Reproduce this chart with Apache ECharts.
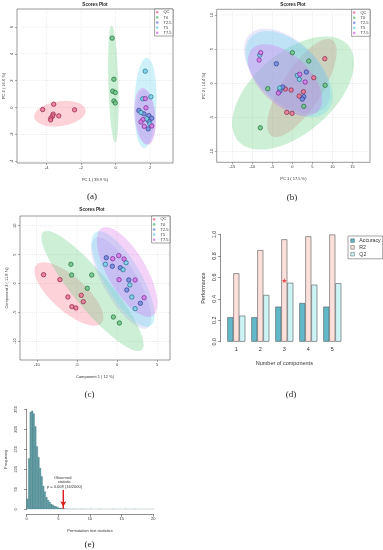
<!DOCTYPE html>
<html><head><meta charset="utf-8">
<script src="https://cdn.jsdelivr.net/npm/echarts@6/dist/echarts.min.js"></script>
<style>html,body{margin:0;padding:0;background:#fff}#c{width:383px;height:550px}</style>
</head><body><div id="c"></div>
<script>
// ---------- shared ----------
const groups = ['QC','T0','T2.5','T5','T7.5'];
const ellFill  = ['rgba(248,118,140,0.33)','rgba(100,205,130,0.33)','rgba(140,140,230,0.20)','rgba(110,215,240,0.33)','rgba(220,110,235,0.30)'];
const ptFill   = ['rgba(232,120,150,0.85)','rgba(110,195,135,0.85)','rgba(120,140,220,0.85)','rgba(125,210,235,0.85)','rgba(214,125,230,0.85)'];
const ptBorder = ['#8E1F3C','#1F6E3C','#2A3F8F','#1F6F88','#7D2590'];

// ---------- panel (a) ----------
const a_xTicks = [-4,-2,0,2];
const a_yTicks = [-4,-2,0,2,4,6];
const a_QC  = [[-4.23,-0.15],[-3.59,0.25],[-2.38,-0.17],[-3.30,-0.62],[-3.62,-0.49],[-3.65,-0.63],[-3.75,-0.78],[-3.77,-0.92]];
const a_T0  = [[-0.20,5.17],[-0.10,2.11],[-0.17,1.22],[-0.02,1.12],[-0.10,0.49],[-0.02,0.34]];
const a_T25 = [[1.35,-0.22],[1.64,-0.47],[1.93,-0.60],[2.09,-0.80],[1.93,-1.02],[1.89,-1.59]];
const a_T5  = [[1.72,2.71],[2.05,0.80],[1.47,-0.37],[1.80,-0.84],[1.99,-1.22],[1.57,0.65]];
const a_T75 = [[1.72,0.67],[1.76,-0.02],[1.58,-0.90],[1.47,-1.07],[1.66,-1.40],[2.10,-1.37]];
// ellipses: [cx, cy, semi-axis1 dx, dy, semi-axis2 dx, dy] in data units
const a_ellQC  = [-3.23,-0.46, 1.49,0.27, 0.10,-0.92];
const a_ellT0  = [-0.13,1.75, -0.10,4.35, 0.29,0.01];
const a_ellT25 = [1.75,-0.70, -0.10,2.05, 0.58,0.03];
const a_ellT5  = [1.73,0.35, 0.087,3.36, 0.64,-0.03];
const a_ellT75 = [1.70,-0.65, -0.157,2.11, 0.60,0.07];

// ---------- panel (b) ----------
const b_xTicks = [-15,-10,-5,0,5,10,15];
const b_yTicks = [-10,-5,0,5,10];
const b_QC  = [[8.1,3.6],[5.35,0.82],[-0.3,-0.98],[2.75,-1.23],[1.7,-1.86],[-1.4,-4.25],[-0.07,-4.39],[-1.75,-0.83]];
const b_T0  = [[4.1,3.26],[0,4.48],[8.2,-0.29],[2.85,-3.37],[-8.0,-6.5],[-6.15,-0.79]];
const b_T25 = [[-4.0,2.87],[3.5,1.65],[-2.4,-0.54],[-3.1,-1.08],[2.85,-1.96],[2.5,-2.30]];
const b_T5  = [[-8.15,4.14],[1.75,0.59],[-3.15,-0.69],[1.25,1.17]];
const b_T75 = [[-8.3,3.41],[-7.9,4.48],[1.85,1.32],[3.2,0.19],[-3.5,-1.42]];
const b_ellQC  = [2.4,-0.69, 7.6,7.0, 4.2,-1.58];
const b_ellT0  = [0.18,-1.42, 13.75,7.0, 6.55,-4.42];
const b_ellT25 = [-1.33,1.80, 9.4,-5.34, 5.2,3.15];
const b_ellT5  = [-0.83,1.36, 9.5,-5.42, 5.25,3.22];
const b_ellT75 = [-1.83,0.48, 8.25,-4.54, 4.25,2.64];

// ---------- panel (c) ----------
const c_xTicks = [-10,-5,0,5];
const c_yTicks = [-10,-5,0,5,10];
const c_QC  = [[-9.16,1.52],[-7.13,0.66],[-6.13,-2.34],[-4.46,-2.04],[-4.21,-3.15],[-5.63,-4.01],[-5.13,-4.24]];
const c_T0  = [[-5.75,3.32],[-5.66,1.47],[-3.16,1.47],[-3.71,-0.83],[-0.46,-5.80],[0.29,-6.83]];
const c_T25 = [[-1.34,4.46],[-0.59,2.98],[1.46,0.61],[1.21,-1.12],[2.91,-3.43],[0.41,2.73]];
const c_T5  = [[-1.46,3.32],[1.125,3.60],[0.75,2.39],[1.59,-0.26],[1.84,-2.34],[2.25,-4.36]];
const c_T75 = [[-0.54,4.29],[0.21,4.81],[0.875,4.24],[0.25,0.66],[2.25,0.61],[3.375,-2.46]];
const c_ellQC  = [-6.0,-1.82, 4.06,-5.02, 1.41,2.20];
const c_ellT0  = [-3.06,-1.30, 6.13,-10.21, 1.73,1.99];
const c_ellT25 = [0.5,0.09, 3.25,-7.79, 1.875,1.38];
const c_ellT5  = [0.75,0.78, 3.375,-8.13, 2.0,1.47];
const c_ellT75 = [1.25,1.99, 3.125,-7.61, 2.125,1.56];

// ---------- panel (d) ----------
const d_components = ['1','2','3','4','5'];
const d_accuracy = [0.228,0.228,0.327,0.361,0.327];
const d_R2       = [0.638,0.855,0.955,0.983,1.0];
const d_Q2       = [0.243,0.436,0.55,0.532,0.545];
const d_best     = ['3',0.57];

// ---------- panel (e) ----------
const e_binWidth = 0.25;
const e_counts = [26,127,243,246,239,207,157,130,103,82,58,44,30,23,18,13,11,8,7,5,3,3,2,2,1,1,0,1,0,1,0,1,0,0,1,0,1,0,0,0,1,0,0,0,0,0,1,0,0,0,0,0,0,0,1,0,0,0,0,0,0,0,1,0,0,0,0,0,1,0,0,0,0,0,0,0,0,0,0,0,1];
const e_observed = 5.78;
const e_arrowTop = 48, e_arrowTip = 1.5;

// ---------- helpers ----------
const FONT = 'Liberation Sans';
function ellipseSeries(gi, p, color){
  return {type:'custom', xAxisIndex:gi, yAxisIndex:gi, z:1, silent:true, clip:true,
    data:[p], encode:{x:0,y:1},
    renderItem:function(params, api){
      const cx=api.value(0), cy=api.value(1), ax=api.value(2), ay=api.value(3), bx=api.value(4), by=api.value(5);
      const pts=[];
      for(let i=0;i<96;i++){const t=i/96*2*Math.PI;
        pts.push(api.coord([cx+ax*Math.cos(t)+bx*Math.sin(t), cy+ay*Math.cos(t)+by*Math.sin(t)]));}
      return {type:'polygon', shape:{points:pts}, style:{fill:color, stroke:null}};
    }};
}
function gridLineSeries(gi, xt, yt, xr, yr){
  const data = xt.map(v=>[v,0]).concat(yt.map(v=>[v,1]));
  return {type:'custom', xAxisIndex:gi, yAxisIndex:gi, z:0, silent:true, data:data,
    encode:{x:0},
    renderItem:function(params, api){
      const v=api.value(0), k=api.value(1);
      let p1,p2;
      if(k===0){p1=api.coord([v,yr[0]]);p2=api.coord([v,yr[1]]);}
      else {p1=api.coord([xr[0],v]);p2=api.coord([xr[1],v]);}
      return {type:'line', shape:{x1:p1[0],y1:p1[1],x2:p2[0],y2:p2[1]}, style:{stroke:'#d8d8d8', lineWidth:0.5, lineDash:[1,1]}};
    }};
}
const option = {animation:false, textStyle:{fontFamily:FONT},
  grid:[], xAxis:[], yAxis:[], series:[], legend:[], graphic:[]};

function scatterPanel(gi, cfg){
  option.grid.push(Object.assign({show:true, borderColor:'#555', borderWidth:0.6, backgroundColor:'rgba(0,0,0,0)'}, cfg.grid));
  option.xAxis.push({type:'value', gridIndex:gi, min:cfg.xr[0], max:cfg.xr[1],
    axisLine:{show:false,onZero:false},
    axisTick:{show:true, customValues:cfg.xt, length:2, lineStyle:{color:'#555',width:0.5}},
    axisLabel:{customValues:cfg.xt, fontSize:4, margin:3, color:'#333'},
    splitLine:{show:false},
    name:cfg.xname, nameLocation:'middle', nameGap:cfg.xgap, nameTextStyle:{fontSize:4,color:'#333'}});
  option.yAxis.push({type:'value', gridIndex:gi, min:cfg.yr[0], max:cfg.yr[1],
    axisLine:{show:false,onZero:false},
    axisTick:{show:true, customValues:cfg.yt, length:2, lineStyle:{color:'#555',width:0.5}},
    axisLabel:{customValues:cfg.yt, fontSize:4, margin:3, color:'#333', rotate:90},
    splitLine:{show:false},
    name:cfg.yname, nameLocation:'middle', nameGap:cfg.ygap, nameTextStyle:{fontSize:4,color:'#333'}});
  option.series.push(gridLineSeries(gi, cfg.xt, cfg.yt, cfg.xr, cfg.yr));
  cfg.ells.forEach((e,i)=>option.series.push(ellipseSeries(gi, e, ellFill[i])));
  cfg.pts.forEach((d,i)=>option.series.push({type:'scatter', name:groups[i], xAxisIndex:gi, yAxisIndex:gi, z:3,
    data:d, symbolSize:4.4, itemStyle:{color:ptFill[i], borderColor:ptBorder[i], borderWidth:0.7, opacity:1}}));
  option.legend.push({data:groups.map(n=>({name:n, icon:'circle'})), orient:'vertical', right:cfg.legRight, top:cfg.grid.top,
    itemWidth:2.6, itemHeight:2.6, itemGap:1.1, padding:[1.3,1.5,1.3,1.3], backgroundColor:'#fff',
    itemStyle:{borderWidth:0},
    borderColor:'#444', borderWidth:0.5, selectedMode:false, textStyle:{fontSize:4, lineHeight:4, color:'#333'}});
  option.graphic.push({type:'text', x:cfg.title[0], y:cfg.title[1], style:{text:'Scores Plot', font:'bold 4.6px '+FONT, fill:'#222', textAlign:'center', textVerticalAlign:'middle', align:'center', verticalAlign:'middle'}});
}

scatterPanel(0, {grid:{left:17, top:9, width:156, height:154}, xr:[-5.72,3.33], yr:[-4.13,7.34], xt:a_xTicks, yt:a_yTicks,
  xname:'PC 1 ( 39.9 %)', yname:'PC 2 ( 16.6 %)', xgap:15, ygap:11, legRight:210, title:[95,4.5],
  ells:[a_ellQC,a_ellT0,a_ellT25,a_ellT5,a_ellT75], pts:[a_QC,a_T0,a_T25,a_T5,a_T75]});
scatterPanel(1, {grid:{left:216.7, top:9.3, width:153.3, height:153}, xr:[-18.9,19.4], yr:[-11.55,10.83], xt:b_xTicks, yt:b_yTicks,
  xname:'PC 1 ( 17.5 %)', yname:'PC 2 ( 14.4 %)', xgap:15, ygap:11, legRight:13, title:[293,4.5],
  ells:[b_ellQC,b_ellT0,b_ellT25,b_ellT5,b_ellT75], pts:[b_QC,b_T0,b_T25,b_T5,b_T75]});
scatterPanel(2, {grid:{left:20, top:216, width:150, height:144}, xr:[-12.1,6.6], yr:[-13.24,11.68], xt:c_xTicks, yt:c_yTicks,
  xname:'Component 1 ( 12 %)', yname:'Component 2 ( 11.8 %)', xgap:15, ygap:11, legRight:213, title:[92,209.5],
  ells:[c_ellQC,c_ellT0,c_ellT25,c_ellT5,c_ellT75], pts:[c_QC,c_T0,c_T25,c_T5,c_T75]});

// panel (d) bars
option.grid.push({left:224.3, top:234.5, width:120, height:107.2});
option.xAxis.push({type:'category', gridIndex:3, data:d_components, axisLine:{show:false}, axisTick:{show:false},
  axisLabel:{fontSize:5.5, color:'#333', margin:5}, name:'Number of components', nameLocation:'middle', nameGap:19,
  nameTextStyle:{fontSize:5.5, color:'#333'}});
option.yAxis.push({type:'value', gridIndex:3, min:0, max:1, interval:0.2, offset:3.6,
  axisLine:{show:true, lineStyle:{color:'#444', width:0.6}}, axisTick:{show:true, length:2.5, lineStyle:{color:'#444', width:0.6}},
  axisLabel:{fontSize:5.5, color:'#333', rotate:90, margin:3, formatter:v=>v.toFixed(1)}, splitLine:{show:false},
  name:'Performance', nameLocation:'middle', nameGap:14, nameTextStyle:{fontSize:5.5, color:'#333'}});
const barStyle = (c)=>({color:c, borderColor:'#555', borderWidth:0.6});
option.series.push({type:'bar', name:'Accuracy', xAxisIndex:3, yAxisIndex:3, data:d_accuracy, barWidth:6, barGap:'0%', itemStyle:barStyle('#5fb9c9')});
option.series.push({type:'bar', name:'R2', xAxisIndex:3, yAxisIndex:3, data:d_R2, barWidth:6, barGap:'0%', itemStyle:barStyle('#fde0dc')});
option.series.push({type:'bar', name:'Q2', xAxisIndex:3, yAxisIndex:3, data:d_Q2, barWidth:6, barGap:'0%', itemStyle:barStyle('#cff4f7')});
option.series.push({type:'scatter', xAxisIndex:3, yAxisIndex:3, data:[d_best], z:5, symbolSize:5, silent:true,
  symbol:'path://M50,0 L61,35 L98,35 L68,57 L79,91 L50,70 L21,91 L32,57 L2,35 L39,35 Z', itemStyle:{color:'#e02020'}});
option.legend.push({data:[{name:'Accuracy',icon:'rect'},{name:'R2',icon:'rect'},{name:'Q2',icon:'rect'}], orient:'vertical',
  left:348, top:236, itemWidth:3.6, itemHeight:3.6, itemGap:1.6, padding:[2,2,2,2.5], borderColor:'#444', borderWidth:0.5,
  itemStyle:{borderColor:'#555', borderWidth:0.5},
  selectedMode:false, textStyle:{fontSize:5.2, lineHeight:5.2, color:'#333'}});

// panel (e) histogram
option.grid.push({left:26.7, top:409.3, width:126.6, height:100});
option.xAxis.push({type:'value', gridIndex:4, min:0, max:20, interval:5, offset:5,
  axisLine:{show:true, onZero:false, lineStyle:{color:'#444', width:0.6}}, axisTick:{show:true, length:2.5, lineStyle:{color:'#444', width:0.6}},
  axisLabel:{fontSize:4, color:'#333', margin:3}, splitLine:{show:false},
  name:'Permutation test statistics', nameLocation:'middle', nameGap:15, nameTextStyle:{fontSize:4, color:'#333'}});
option.yAxis.push({type:'value', gridIndex:4, min:0, max:250, interval:50, offset:6,
  axisLine:{show:true, lineStyle:{color:'#444', width:0.6}}, axisTick:{show:true, length:2.5, lineStyle:{color:'#444', width:0.6}},
  axisLabel:{fontSize:4, color:'#333', rotate:90, margin:3}, splitLine:{show:false},
  name:'Frequency', nameLocation:'middle', nameGap:13, nameTextStyle:{fontSize:4, color:'#333'}});
option.series.push({type:'custom', xAxisIndex:4, yAxisIndex:4, silent:true, clip:true,
  data:e_counts.map((c,i)=>[i*e_binWidth,(i+1)*e_binWidth,c]), encode:{x:[0,1], y:2},
  renderItem:function(params, api){
    const p0=api.coord([api.value(0),api.value(2)]), p1=api.coord([api.value(1),0]);
    return {type:'rect', shape:{x:p0[0], y:p0[1], width:p1[0]-p0[0], height:p1[1]-p0[1]},
      style:{fill:'#5f9ea6', stroke:'#3f6f78', lineWidth:0.3}};
  }});
option.series.push({type:'line', xAxisIndex:4, yAxisIndex:4, silent:true, z:5, showSymbol:true,
  data:[{value:[e_observed,e_arrowTop], symbol:'none'}, {value:[e_observed,e_arrowTip], symbol:'arrow', symbolSize:[4.5,5.5], symbolRotate:180, symbolOffset:[0,-2]}],
  lineStyle:{color:'#e01818', width:1.4}, itemStyle:{color:'#e01818'}});

// text
const lbl = (t,x,y)=>({type:'text', x:x, y:y, style:{text:t, font:'9px Liberation Serif', fill:'#222', textAlign:'center', textVerticalAlign:'middle', align:'center', verticalAlign:'middle'}});
option.graphic.push(lbl('(a)',92,197), lbl('(b)',292,197.5), lbl('(c)',89.5,395), lbl('(d)',291,395), lbl('(e)',89.5,545));
const small = (t,x,y)=>({type:'text', x:x, y:y, style:{text:t, font:'4px '+FONT, fill:'#333', textAlign:'center', textVerticalAlign:'middle', align:'center', verticalAlign:'middle'}});
option.graphic.push(small('Observed',62.7,477.7), small('statistic',64.3,482.3), small('p = 0.008 (16/2000)',64.5,486.9));

const chart = echarts.init(document.getElementById('c'), null, {renderer:'canvas'});
chart.setOption(option);
</script></body></html>
